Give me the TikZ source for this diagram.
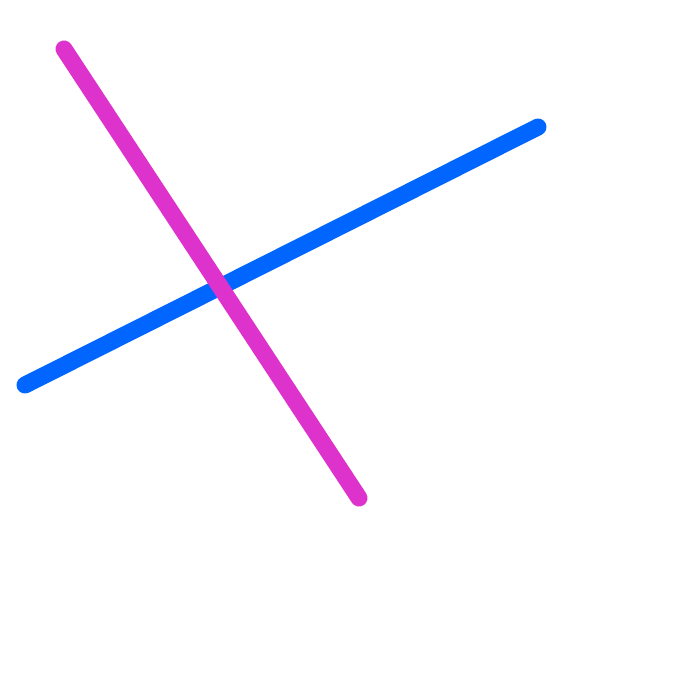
\documentclass[tikz,border=0pt]{standalone}
\usepackage{xcolor}
\usepackage{tikz}
\definecolor{brightblue}{HTML}{0066FF}
\definecolor{orchid}{HTML}{DD33CC}

\begin{document}
\begin{tikzpicture}[
  x=0.01cm, y=-0.01cm,
  stroke/.style={line width=0.17cm, line cap=round}
]
\useasboundingbox (0,0) rectangle (700,700);

\coordinate (b1) at (25,385);
\coordinate (b2) at (538,127);
\coordinate (m1) at (64,49);
\coordinate (m2) at (359,498);

\draw[stroke, brightblue] (b1) -- (b2);
\draw[stroke, orchid] (m1) -- (m2);
\end{tikzpicture}
\end{document}
